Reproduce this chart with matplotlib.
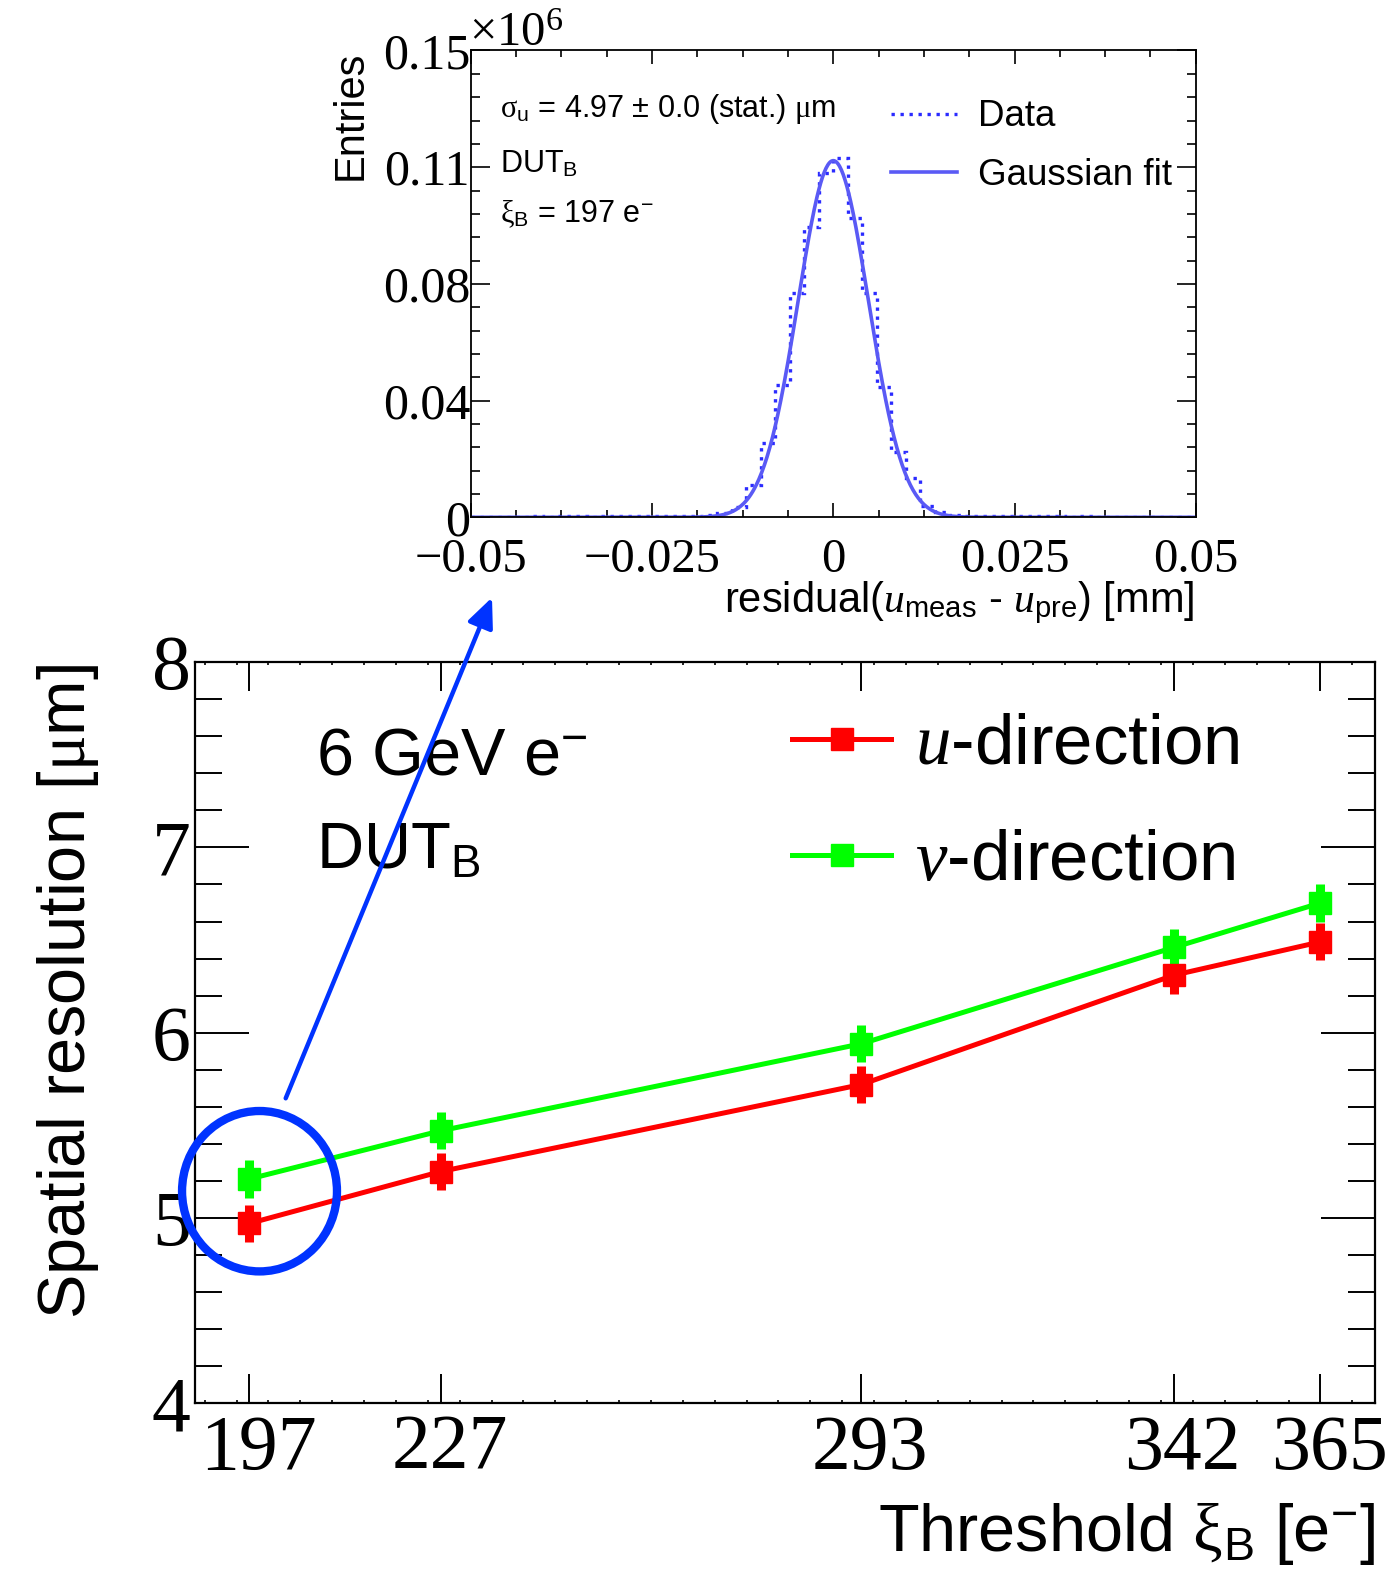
import numpy as np
import matplotlib
matplotlib.use("Agg")
import matplotlib.pyplot as plt
import matplotlib.transforms as mtransforms
from matplotlib.patches import Ellipse
from matplotlib.ticker import MultipleLocator

plt.rcParams.update({
    "font.family": ["Liberation Sans", "DejaVu Sans"],
    "mathtext.fontset": "custom",
    "mathtext.rm": "Liberation Sans",
    "mathtext.it": "Liberation Serif:italic",
    "mathtext.sf": "Liberation Serif",
    "mathtext.bf": "Liberation Sans:bold",
})

# ---- spatial resolution vs. threshold ----
threshold = [197, 227, 293, 342, 365]
res_u = [4.97, 5.25, 5.72, 6.31, 6.49]
res_v = [5.21, 5.47, 5.94, 6.46, 6.70]
err_u = [0.10, 0.10, 0.10, 0.10, 0.10]
err_v = [0.10, 0.10, 0.10, 0.10, 0.10]
threshold_labels = [str(t) for t in threshold]
res_ticks = [4, 5, 6, 7, 8]

# ---- residual distribution at the lowest threshold (entries in 10^6) ----
resid_edges = np.linspace(-0.05, 0.05, 51)
resid_counts = [
    0.0002, 0.0002, 0.0002, 0.0002, 0.0003, 0.0002, 0.0003, 0.0003, 0.0002, 0.0003,
    0.0003, 0.0004, 0.0003, 0.0004, 0.0004, 0.0005, 0.0007, 0.0013, 0.0034, 0.0104,
    0.0238, 0.0425, 0.0720, 0.0934, 0.1107, 0.1153, 0.0961, 0.0720, 0.0420, 0.0211,
    0.0125, 0.0036, 0.0018, 0.0007, 0.0005, 0.0004, 0.0004, 0.0003, 0.0003, 0.0003,
    0.0003, 0.0002, 0.0003, 0.0002, 0.0002, 0.0002, 0.0002, 0.0002, 0.0002, 0.0002,
]
fit_amp = 0.1146
fit_mean = 0.0
fit_sigma = 0.00485
resid_xticks = [-0.05, -0.025, 0.0, 0.025, 0.05]
resid_xlabels = ["\u22120.05", "\u22120.025", "0", "0.025", "0.05"]
resid_yticks = [0.0, 0.0375, 0.075, 0.1125, 0.15]
resid_ylabels = ["0", "0.04", "0.08", "0.11", "0.15"]

RED = "#ff0000"
GREEN = "#00ff00"
BLUE = "#0033ff"
DATA_BLUE = "#2b2bff"
FIT_BLUE = "#5a5af5"
SERIF = "Liberation Serif"

W, H = 1388, 1583
fig = plt.figure(figsize=(W / 100, H / 100), dpi=100)


def fx(px):
    return px / W


def fy(py):
    return 1 - py / H


# ================= main graph =================
ax = fig.add_axes([fx(194.8), fy(1403.1), (1374.9 - 194.8) / W, (1403.1 - 662.2) / H])
ax.set_xlim(188.45, 373.55)
ax.set_ylim(4, 8)

ax.errorbar(threshold, res_u, yerr=err_u, fmt="none", ecolor=RED, elinewidth=6.5,
            capsize=0, zorder=3)
ax.errorbar(threshold, res_v, yerr=err_v, fmt="none", ecolor=GREEN, elinewidth=6.5,
            capsize=0, zorder=3)
line_u, = ax.plot(threshold, res_u, color=RED, lw=3.6, marker="s", ms=15.5,
                  mec=RED, mfc=RED, zorder=3.2)
line_v, = ax.plot(threshold, res_v, color=GREEN, lw=3.6, marker="s", ms=15.5,
                  mec=GREEN, mfc=GREEN, zorder=3.1)

ax.set_xticks(threshold, labels=threshold_labels)
ax.xaxis.set_minor_locator(MultipleLocator(5))
ax.set_yticks(res_ticks, labels=[str(t) for t in res_ticks])
ax.yaxis.set_minor_locator(MultipleLocator(0.2))
ax.tick_params(axis="x", which="major", direction="in", length=20.9, width=1.4,
               top=True, bottom=True, labelsize=56, pad=8)
ax.tick_params(axis="x", which="minor", direction="in", length=2.5, width=1.2,
               top=True, bottom=True)
ax.tick_params(axis="y", which="major", direction="in", length=38.9, width=1.4,
               left=True, right=True, labelsize=56, pad=3)
ax.tick_params(axis="y", which="minor", direction="in", length=19.4, width=1.4,
               left=True, right=True)
shift = mtransforms.ScaledTranslation(0.09, 0, fig.dpi_scale_trans)
for lab in ax.get_xticklabels():
    lab.set_fontfamily(SERIF)
    lab.set_transform(lab.get_transform() + shift)
for lab in ax.get_yticklabels():
    lab.set_fontfamily(SERIF)
for sp in ax.spines.values():
    sp.set_linewidth(1.6)

ax.legend([line_u, line_v], [r"$u$-direction", r"$v$-direction"],
          loc="upper left", bbox_to_anchor=(fx(792), fy(713)),
          bbox_transform=fig.transFigure, frameon=False, borderpad=0,
          borderaxespad=0, handlelength=1.40, handletextpad=0.33,
          labelspacing=0.70, fontsize=51)

ax.text(fx(316), fy(775), r"6 GeV e$^{-}$", transform=fig.transFigure,
        fontsize=48, ha="left", va="baseline", zorder=3)
ax.text(fx(316), fy(868), r"DUT$_{\rm B}$", transform=fig.transFigure,
        fontsize=47, ha="left", va="baseline", zorder=3)

# highlight of the lowest-threshold point and pointer to the residual plot
ax.add_patch(Ellipse((198.6, 5.144), 24.3, 0.866, fill=False, edgecolor=BLUE,
                     lw=6, zorder=4, clip_on=False))
ax.annotate("", xy=(492, 985.5), xycoords="figure pixels",
            xytext=(285.7, 484.7), textcoords="figure pixels",
            annotation_clip=False, zorder=5,
            arrowprops=dict(arrowstyle="-|>,head_length=18,head_width=8",
                            mutation_scale=1, color=BLUE, lw=3.2,
                            shrinkA=0, shrinkB=0))

fig.text(fx(68), fy(991), r"Spatial resolution [$\mathsf{\mu}$m]", rotation=90,
         ha="center", va="center", fontsize=48)
fig.text(fx(1375), fy(1551), r"Threshold $\mathsf{\xi}_{\rm B}$ [e$^{-}$]",
         ha="right", va="baseline", fontsize=48)

# ================= residual distribution =================
ax2 = fig.add_axes([fx(470.8), fy(517.3), 725 / W, 466.8 / H])
ax2.set_xlim(-0.05, 0.05)
ax2.set_ylim(0, 0.15)

h_data = ax2.stairs(resid_counts, resid_edges, color=DATA_BLUE, lw=2.4,
                    linestyle=(0, (1, 1.7)), label="Data")
xfit = np.linspace(-0.05, 0.05, 801)
yfit = fit_amp * np.exp(-0.5 * ((xfit - fit_mean) / fit_sigma) ** 2)
h_fit, = ax2.plot(xfit, yfit, color=FIT_BLUE, lw=2.6, label="Gaussian fit")

ax2.set_xticks(resid_xticks, labels=resid_xlabels)
ax2.xaxis.set_minor_locator(MultipleLocator(0.00625))
ax2.set_yticks(resid_yticks, labels=resid_ylabels)
ax2.yaxis.set_minor_locator(MultipleLocator(0.0075))
ax2.tick_params(axis="x", which="major", direction="in", length=10, width=1.2,
                top=True, bottom=True, labelsize=35, pad=15)
ax2.tick_params(axis="x", which="minor", direction="in", length=5, width=1.2,
                top=True, bottom=True)
ax2.tick_params(axis="y", which="major", direction="in", length=13.5, width=1.2,
                left=True, right=True, labelsize=36, pad=0.5)
ax2.tick_params(axis="y", which="minor", direction="in", length=6.7, width=1.2,
                left=True, right=True)
for lab in ax2.get_xticklabels() + ax2.get_yticklabels():
    lab.set_fontfamily(SERIF)
for sp in ax2.spines.values():
    sp.set_linewidth(1.3)

ax2.legend([h_data, h_fit], ["Data", "Gaussian fit"], loc="upper left",
           bbox_to_anchor=(fx(891), fy(99.5)), bbox_transform=fig.transFigure,
           frameon=False, borderpad=0, borderaxespad=0, handlelength=1.78,
           handletextpad=0.58, labelspacing=0.64, fontsize=26.5)

fig.text(fx(500), fy(117), r"$\mathsf{\sigma}_{\rm u}$ = 4.97 ± 0.0 (stat.) $\mathsf{\mu}$m",
         fontsize=22, ha="left", va="baseline")
fig.text(fx(500), fy(172.6), r"DUT$_{\rm B}$", fontsize=22, ha="left", va="baseline")
fig.text(fx(500), fy(222), r"$\mathsf{\xi}_{\rm B}$ = 197 e$^{-}$", fontsize=22,
         ha="left", va="baseline")

fig.text(fx(469), fy(46), r"$\mathsf{\times 10^{6}}$", fontsize=35, ha="left",
         va="baseline")
fig.text(fx(351), fy(50.5), "Entries", rotation=90, ha="center", va="top", fontsize=30)
fig.text(fx(1194), fy(612), r"residual($u_{\rm meas}$ - $u_{\rm pre}$) [mm]",
         ha="right", va="baseline", fontsize=30)

fig.savefig("out.png", dpi=100)
